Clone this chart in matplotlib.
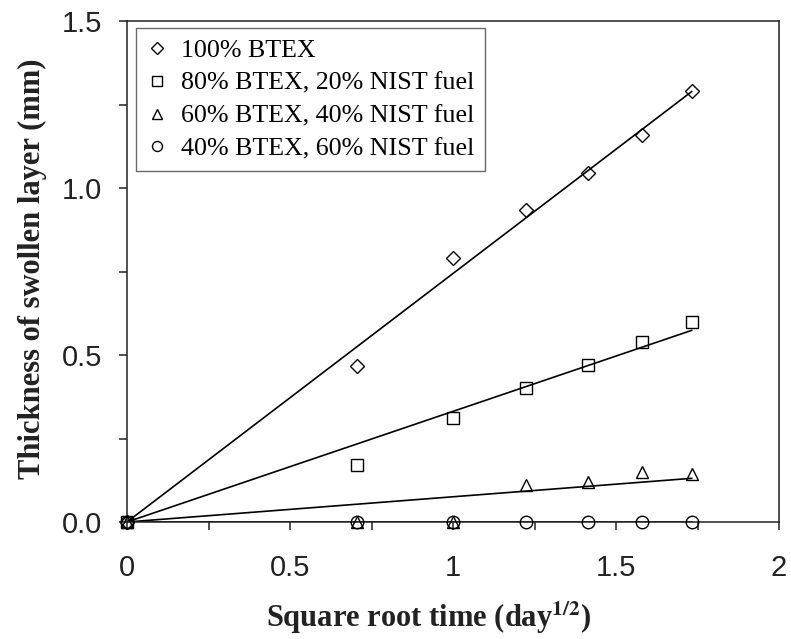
import matplotlib
matplotlib.use("Agg")
import matplotlib.pyplot as plt
import numpy as np
from matplotlib.ticker import MultipleLocator, FixedFormatter, FixedLocator

plt.rcParams["mathtext.fontset"] = "stix"

# ── Dados ─────────────────────────────────────────────────────────────────────
sqrt_t = [0.0, 0.707, 1.0, 1.225, 1.414, 1.581, 1.732]

btex_100 = [0.0, 0.467, 0.79, 0.935, 1.045, 1.16, 1.29]
btex_80 = [0.0, 0.17, 0.31, 0.40, 0.47, 0.54, 0.60]
btex_60 = [0.0, 0.0, 0.0, 0.11, 0.12, 0.15, 0.145]
btex_40 = [0.0, 0.0, 0.0, 0.0, 0.0, 0.0, 0.0]

labels = ["100% BTEX", "80% BTEX, 20% NIST fuel",
          "60% BTEX, 40% NIST fuel", "40% BTEX, 60% NIST fuel"]
markers = ["D", "s", "^", "o"]

x_ticks = [0, 0.5, 1, 1.5, 2]
x_ticklabels = ["0", "0.5", "1", "1.5", "2"]
y_ticks = [0, 0.5, 1.0, 1.5]
y_ticklabels = ["0.0", "0.5", "1.0", "1.5"]

# ── Figura ────────────────────────────────────────────────────────────────────
W, H = 791, 639
fig = plt.figure(figsize=(W / 100, H / 100), dpi=100)
ax = fig.add_axes([127 / W, 1 - 522 / H, (779 - 127) / W, (522 - 21) / H])

x = np.array(sqrt_t)
handles = []
for y, m, lab in zip([btex_100, btex_80, btex_60, btex_40], markers, labels):
    y = np.array(y)
    # ajuste linear pela origem
    slope = float(np.sum(x * y) / np.sum(x * x))
    xf = np.array([0.0, x.max()])
    ax.plot(xf, slope * xf, color="black", linewidth=1.2, zorder=2)
    ms = 7.5 if m == "D" else 9
    h, = ax.plot(x, y, linestyle="none", marker=m, markersize=ms,
                 markerfacecolor="none", markeredgecolor="black",
                 markeredgewidth=1.0, label=lab, zorder=3, clip_on=False)
    handles.append(h)

ax.set_xlim(0, 2)
ax.set_ylim(0, 1.5)
for s in ax.spines.values():
    s.set_linewidth(1.1)
    s.set_color("#222222")

ax.xaxis.set_major_locator(FixedLocator(x_ticks))
ax.xaxis.set_major_formatter(FixedFormatter(x_ticklabels))
ax.xaxis.set_minor_locator(MultipleLocator(0.25))
ax.yaxis.set_major_locator(FixedLocator(y_ticks))
ax.yaxis.set_major_formatter(FixedFormatter(y_ticklabels))
ax.yaxis.set_minor_locator(MultipleLocator(0.25))

ax.tick_params(which="both", direction="out", length=6, width=1.1,
               top=False, right=False, colors="#222222")
ax.tick_params(axis="x", which="major", pad=17)
ax.tick_params(axis="y", which="major", pad=12)
for t in ax.get_xticklabels() + ax.get_yticklabels():
    t.set_fontfamily("Liberation Sans")
    t.set_fontsize(21)
    t.set_color("#222222")

fig.text(429 / W, 1 - 627 / H, r"Square root time (day$^{\mathbf{1/2}}$)",
         fontsize=22, fontfamily="Liberation Serif", fontweight="bold",
         ha="center", va="baseline", color="#222222")
fig.text(40 / W, 1 - 269 / H, "Thickness of swollen layer (mm)",
         fontsize=22, fontfamily="Liberation Serif", fontweight="bold",
         rotation=90, rotation_mode="anchor", ha="center", va="baseline",
         color="#222222")

leg = ax.legend(handles=handles, loc="upper left",
                bbox_to_anchor=(136 / W, 1 - 28 / H),
                bbox_transform=fig.transFigure,
                prop={"family": "Liberation Serif", "size": 18.7},
                frameon=True, fancybox=False, edgecolor="#444444",
                handlelength=0.8, handletextpad=0.5, labelspacing=0.37,
                borderpad=0.42, borderaxespad=0, markerscale=0.8)
leg.get_frame().set_linewidth(1.0)

fig.savefig("out.png", dpi=100)
